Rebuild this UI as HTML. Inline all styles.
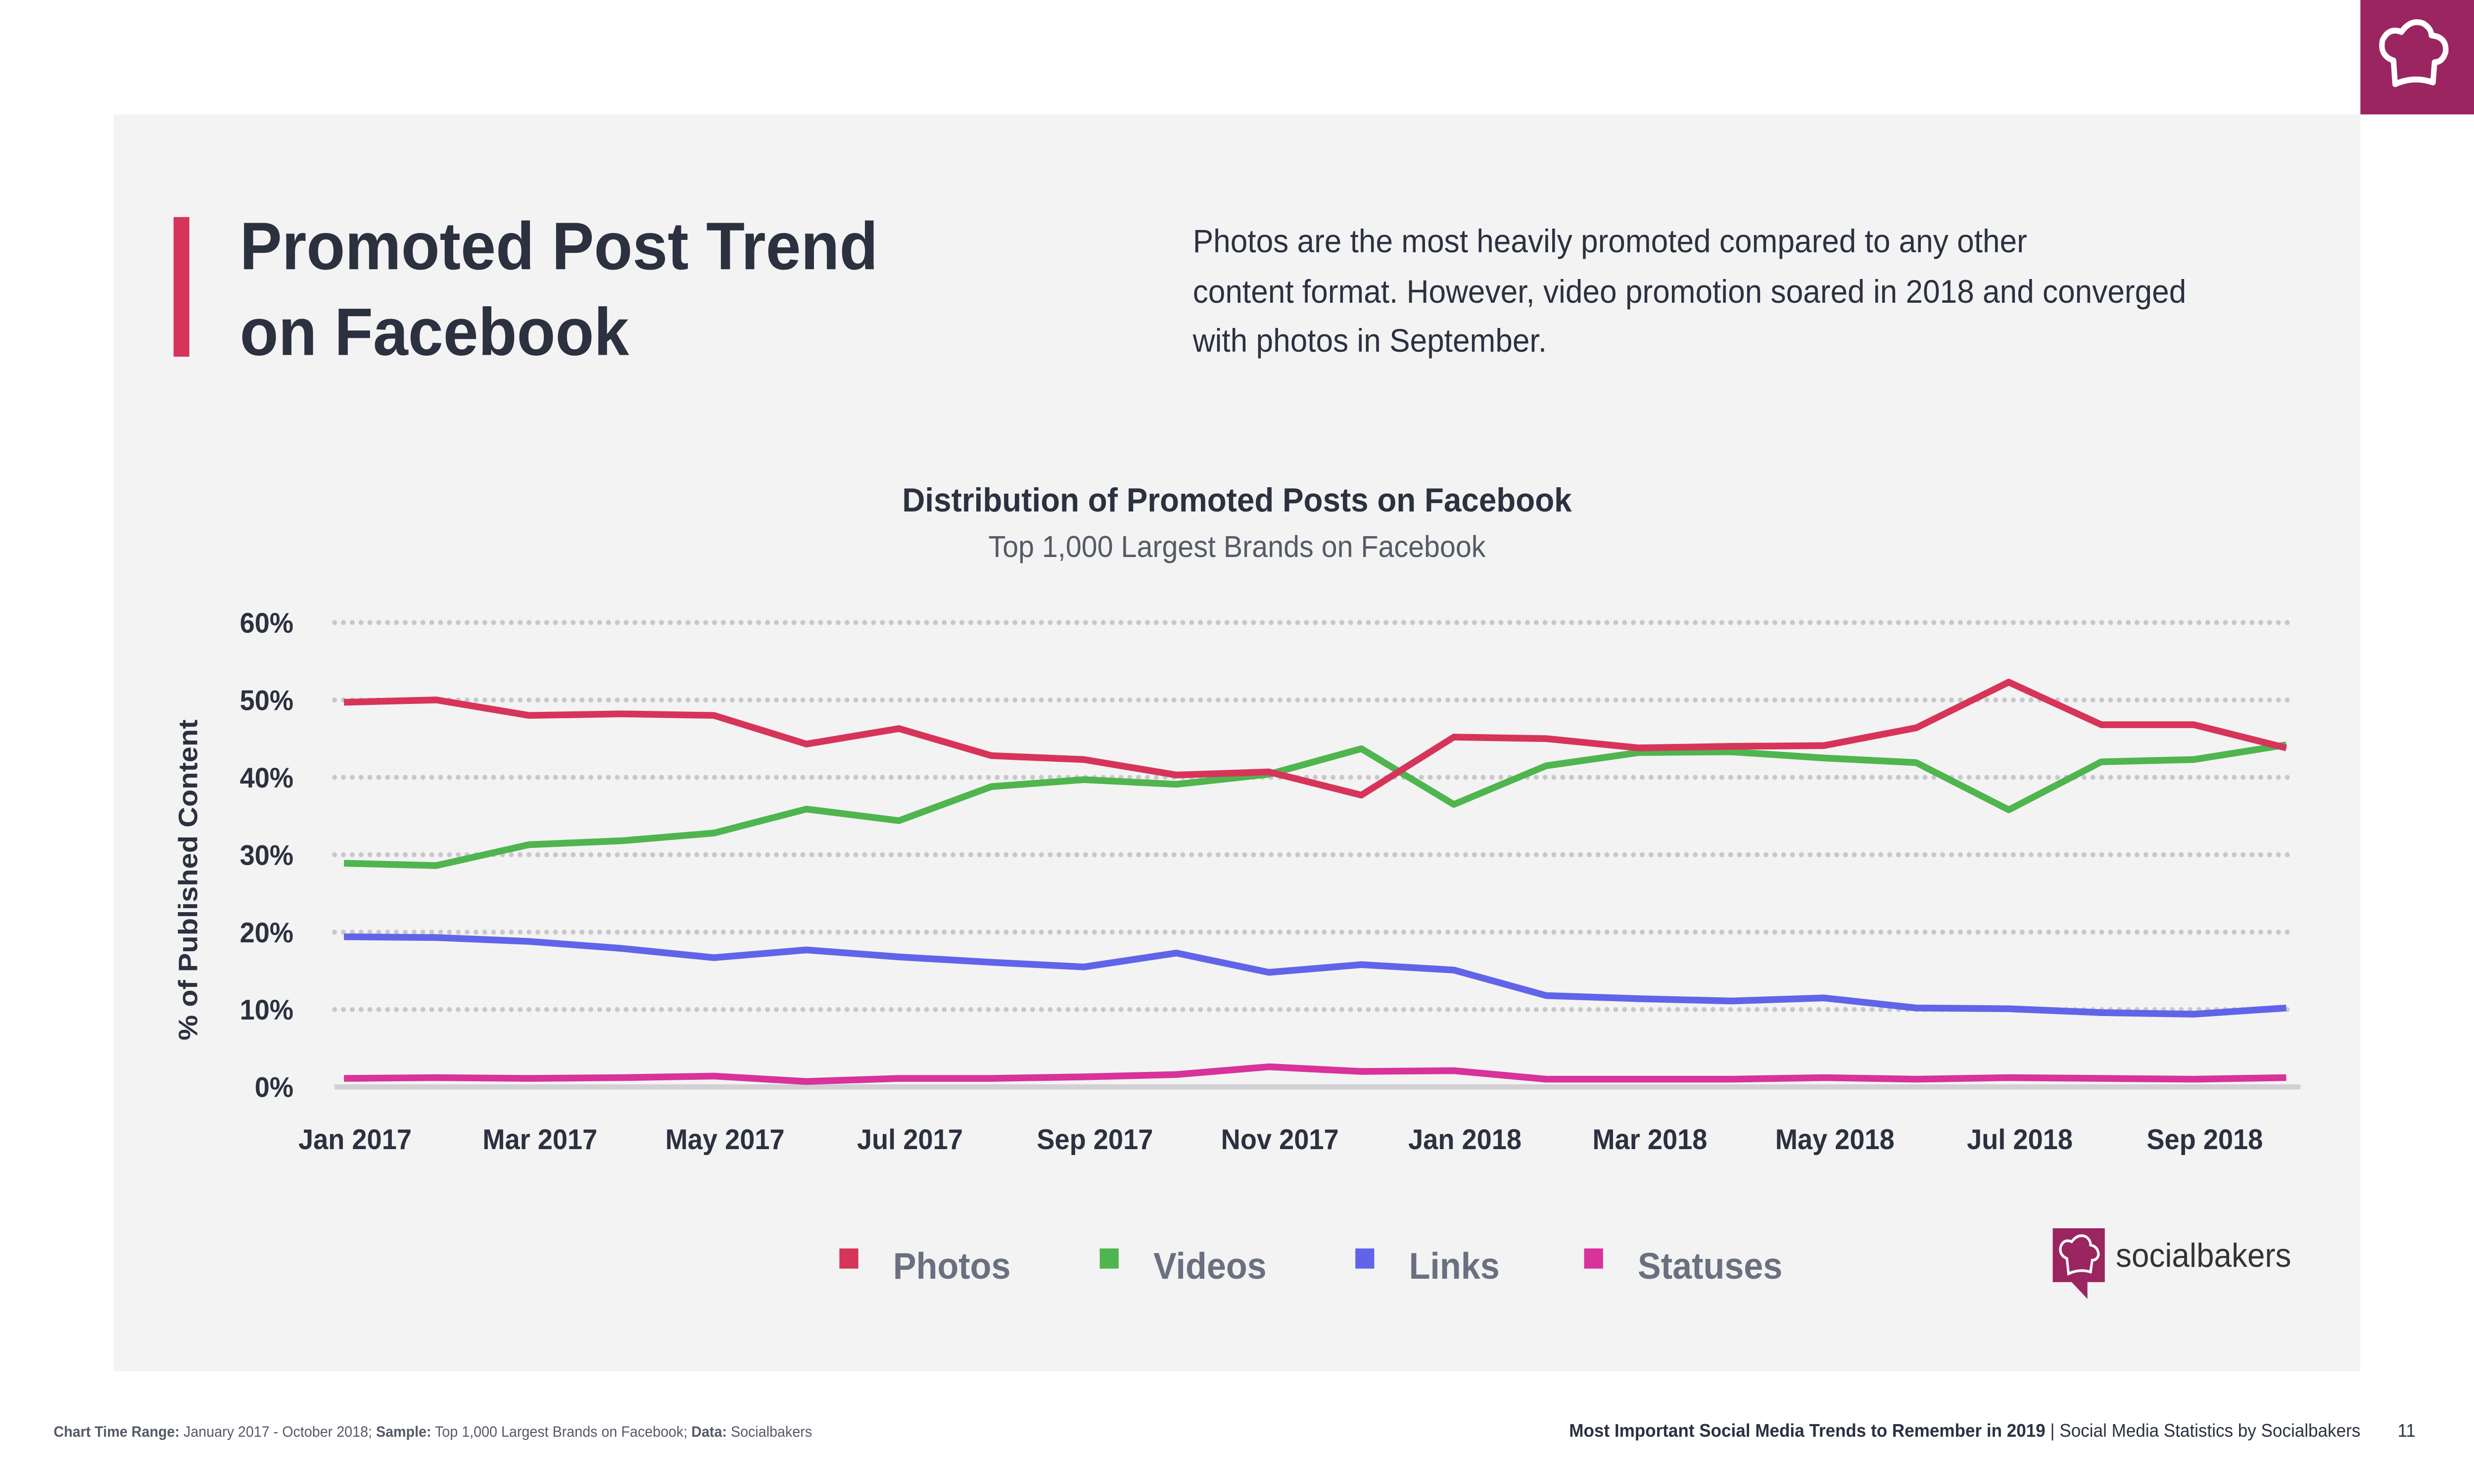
<!DOCTYPE html>
<html><head><meta charset="utf-8"><style>
html,body{margin:0;padding:0;background:#fff;width:100%;height:100%;overflow:hidden}
svg{display:block;position:absolute;left:0;top:0;width:100vw;height:100vh}
text{font-family:"Liberation Sans",sans-serif}
</style></head><body>
<svg viewBox="0 0 1568 882" preserveAspectRatio="none" xmlns="http://www.w3.org/2000/svg">
<rect x="0" y="0" width="1568" height="882" fill="#fff"/>
<rect x="72" y="68" width="1424" height="747" fill="#f3f3f3"/>
<g>
<rect x="1496" y="0" width="72" height="68" fill="#9b2560"/>
<path d="M1518 50 L1517 36 Q1508 33 1510 24 Q1514 16 1522 19 Q1528 11 1536 14 Q1541 17 1541 21 Q1551 22 1550 31 Q1548 37 1543 37 L1542 49 Q1530 45 1518 50 Z" fill="none" stroke="#fff" stroke-width="3.5" stroke-linejoin="round"/>
</g>
<rect x="110" y="129" width="10" height="83" fill="#d7345a"/>
<text x="152" y="160" font-size="40" font-weight="bold" fill="#2c3140">Promoted Post Trend</text>
<text x="152" y="211" font-size="40" font-weight="bold" fill="#2c3140">on Facebook</text>
<g font-size="19.5" fill="#2c3140">
<text x="756" y="150">Photos are the most heavily promoted compared to any other</text>
<text x="756" y="180">content format. However, video promotion soared in 2018 and converged</text>
<text x="756" y="209">with photos in September.</text>
</g>
<text x="784" y="304" font-size="20" font-weight="bold" fill="#2c3140" text-anchor="middle">Distribution of Promoted Posts on Facebook</text>
<text x="784" y="331" font-size="18" fill="#555a66" text-anchor="middle">Top 1,000 Largest Brands on Facebook</text>
<text transform="translate(125,523) rotate(-90)" font-size="17" font-weight="bold" fill="#2c3140" text-anchor="middle">% of Published Content</text>
<g id="chart"></g>
<g font-size="22" font-weight="bold" fill="#6b7080">
<g><rect x="532" y="742" width="12" height="12" fill="#d7345a"/><text x="566" y="760">Photos</text></g>
<g><rect x="697" y="742" width="12" height="12" fill="#4fb54e"/><text x="731" y="760">Videos</text></g>
<g><rect x="859" y="742" width="12" height="12" fill="#6164e8"/><text x="893" y="760">Links</text></g>
<g><rect x="1004" y="742" width="12" height="12" fill="#d8329b"/><text x="1038" y="760">Statuses</text></g>
</g>
<g>
<path d="M1301 730 H1334 V762 H1323 L1323 772 L1313 762 H1301 Z" fill="#9b2560"/>
<path d="M1311 757 L1310 748 Q1305 746 1306 741 Q1308 736 1313 738 Q1317 733 1322 735 Q1325 737 1325 740 Q1330 741 1330 746 Q1329 749 1326 749 L1325 756 Q1318 754 1311 757 Z" fill="none" stroke="#fff" stroke-width="1.6"/>
<text x="1341" y="753" font-size="20" font-family="DejaVu Sans,sans-serif" fill="#333">socialbakers</text>
</g>
<text x="34" y="854" font-size="9" fill="#555a66"><tspan font-weight="bold">Chart Time Range:</tspan> January 2017 - October 2018; <tspan font-weight="bold">Sample:</tspan> Top 1,000 Largest Brands on Facebook; <tspan font-weight="bold">Data:</tspan> Socialbakers</text>
<text x="1496" y="854" font-size="11" fill="#2c3140" text-anchor="end"><tspan font-weight="bold">Most Important Social Media Trends to Remember in 2019</tspan> | Social Media Statistics by Socialbakers</text>
<text x="1531" y="854" font-size="11" fill="#2c3140" text-anchor="end">11</text>
</svg>
<script>
const months = ["Jan 2017","Feb 2017","Mar 2017","Apr 2017","May 2017","Jun 2017","Jul 2017","Aug 2017","Sep 2017","Oct 2017","Nov 2017","Dec 2017","Jan 2018","Feb 2018","Mar 2018","Apr 2018","May 2018","Jun 2018","Jul 2018","Aug 2018","Sep 2018","Oct 2018"];
const photos = [49.7,50,48,48.2,48,44.3,46.3,42.8,42.3,40.3,40.7,37.7,45.2,45,43.8,44,44.1,46.4,52.3,46.8,46.8,43.8];
const videos = [28.9,28.6,31.3,31.8,32.8,35.9,34.4,38.8,39.7,39.1,40.4,43.7,36.5,41.5,43.2,43.3,42.5,41.9,35.8,42,42.3,44.2];
const links = [19.4,19.3,18.8,17.9,16.7,17.7,16.8,16.1,15.5,17.3,14.8,15.8,15.1,11.8,11.4,11.1,11.5,10.2,10.1,9.6,9.4,10.2];
const statuses = [1.1,1.2,1.1,1.2,1.4,0.7,1.1,1.1,1.3,1.6,2.6,2.0,2.1,1.0,1.0,1.0,1.2,1.0,1.2,1.1,1.0,1.2];
const yTicks = [0,10,20,30,40,50,60];

const NS="http://www.w3.org/2000/svg";
const g=document.getElementById('chart');
const X=i=>218+i*(1449-218)/(months.length-1);
const Y=v=>646-v*(646-370)/60;
function mk(t,a){const e=document.createElementNS(NS,t);for(const k in a)e.setAttribute(k,a[k]);g.appendChild(e);return e;}
yTicks.forEach(t=>{
  if(t>0){const l=mk('line',{x1:212,x2:1452,y1:Y(t),y2:Y(t),stroke:'#c8c8cc','stroke-width':3,'stroke-dasharray':'0.1 5.5','stroke-linecap':'round'});
  
  }
  const tx=mk('text',{x:186,y:Y(t)+6,'font-size':17,'font-weight':'bold',fill:'#2c3140','text-anchor':'end'});
  tx.textContent=t+'%';
  
  
});
const ax=mk('line',{x1:212,x2:1458,y1:646,y2:646,stroke:'#d0d0d5','stroke-width':3});


months.forEach((m,i)=>{
  if(i%2)return;
  const tx=mk('text',{x:X(i)+7,y:683,'font-size':17,'font-weight':'bold',fill:'#2c3140','text-anchor':'middle'});
  tx.textContent=m;
  
  
});
[[statuses,'#d8329b','statuses'],[links,'#6164e8','links'],[videos,'#4fb54e','videos'],[photos,'#d7345a','photos']].forEach(([d,c,n])=>{
  const p=mk('polyline',{points:d.map((v,i)=>X(i)+','+Y(v)).join(' '),fill:'none',stroke:c,'stroke-width':4,'stroke-linejoin':'round'});
  
  
});
</script>
</body></html>
